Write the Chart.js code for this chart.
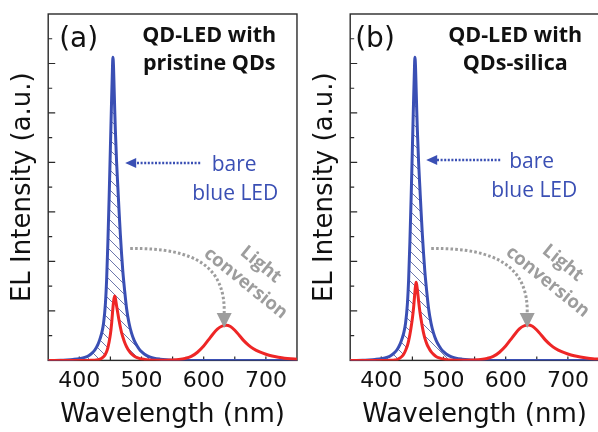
<!DOCTYPE html>
<html><head><meta charset="utf-8">
<script src="https://cdn.jsdelivr.net/npm/chart.js@4"></script>
<style>
html,body{margin:0;padding:0;background:#fff;}
#wrap{position:relative;width:598px;height:432px;overflow:hidden;background:#fff;}
canvas{position:absolute;top:0;}
</style></head><body>
<div id="wrap"><canvas id="ca" width="299" height="432" style="left:0px"></canvas><canvas id="cb" width="302" height="432" style="left:299px"></canvas></div>
<script>
// ---- data ----
const wavelengths = [350,360,370,380,390,400,410,415,420,425,430,433,436,439,442,444,446,448,450,452,453,454,455,456,457,458,460,462,464,466,468,470,473,476,480,484,488,493,498,505,512,520,530,540,550,560,570,580,590,600,608,615,622,629,636,643,650,657,664,672,680,690,700,710,720,730,740,750];
const blueA = [0,0,0.005,0.02,0.04,0.07,0.13, 0.19,0.28,0.42,0.65, 0.85,1.1,1.5,2.3, 3.3,4.8,6.6,8.6, 10.6,11.5,12.25,11.9, 11.0,10.1,9.3,8.0, 7.0,6.0,5.1,4.3, 3.6,2.8,2.1,1.5, 1.1,0.82,0.58,0.4, 0.25,0.15,0.09,0.05, 0.025,0.01,0,0, 0,0,0,0, 0,0,0,0, 0,0,0,0, 0,0,0,0, 0,0,0,0, 0];
const redA = [0,0,0,0,0,0,0, 0,0.005,0.01,0.03, 0.05,0.09,0.15,0.25, 0.36,0.52,0.75,1.05, 1.5,1.8,2.1,2.35, 2.52,2.6,2.52,2.2, 1.9,1.6,1.35,1.12, 0.95,0.72,0.55,0.38, 0.26,0.18,0.11,0.07, 0.04,0.02,0.01,0.005, 0.01,0.02,0.04,0.08, 0.16,0.33,0.58,0.84, 1.07,1.26,1.38,1.42, 1.37,1.22,1.02,0.81, 0.62,0.47,0.34,0.25, 0.18,0.13,0.09,0.065, 0.05];
const blueB = [0,0,0.005,0.02,0.04,0.07,0.13, 0.19,0.28,0.42,0.65, 0.85,1.1,1.5,2.3, 3.3,4.8,6.6,8.6, 10.6,11.5,12.25,11.9, 11.0,10.1,9.3,8.0, 7.0,6.0,5.1,4.3, 3.6,2.8,2.1,1.5, 1.1,0.82,0.58,0.4, 0.25,0.15,0.09,0.05, 0.025,0.01,0,0, 0,0,0,0, 0,0,0,0, 0,0,0,0, 0,0,0,0, 0,0,0,0, 0];
const redB = [0,0,0,0,0,0,0, 0.005,0.01,0.03,0.1, 0.16,0.25,0.4,0.6, 0.8,1.05,1.35,1.7, 2.15,2.45,2.75,3.0, 3.16,3.05,2.85,2.4, 1.98,1.65,1.35,1.1, 0.9,0.68,0.52,0.35, 0.24,0.16,0.1,0.06, 0.03,0.015,0.01,0.005, 0.01,0.02,0.04,0.08, 0.16,0.33,0.58,0.84, 1.07,1.27,1.39,1.43, 1.38,1.23,1.03,0.82, 0.63,0.48,0.35,0.26, 0.19,0.14,0.1,0.07, 0.055];
const xTickLabels = [400,500,600,700];
const xInnerTicks = [400,450,500,550,600,650,700];
const yInnerTicks = [1,2,3,4,5,6,7,8,9,10,11,12,13];

const BLUE = '#3a4fb4', RED = '#ee2626', GRAY = '#9d9d9d', INK = '#111';

function makeHatch(){
  const s = 10, c = document.createElement('canvas'); c.width = s; c.height = s;
  const g = c.getContext('2d');
  g.strokeStyle = '#5b66a3'; g.lineWidth = 0.9;
  g.beginPath();
  g.moveTo(0,0); g.lineTo(s,s);
  g.moveTo(-2,s-2); g.lineTo(2,s+2);
  g.moveTo(s-2,-2); g.lineTo(s+2,2);
  g.stroke();
  return g.createPattern(c,'repeat');
}
const hatch = makeHatch();

const annot = {
  id: 'annot',
  beforeDatasetsDraw(chart, args, o){
    const {ctx, chartArea: a, scales: {x, y}} = chart;
    ctx.save();
    ctx.strokeStyle = '#2a2a2a'; ctx.lineWidth = 1.4;
    ctx.strokeRect(a.left, a.top, a.right - a.left, a.bottom - a.top);
    ctx.lineWidth = 1.2;
    ctx.beginPath();
    for (const v of xInnerTicks){ const px = x.getPixelForValue(v); ctx.moveTo(px, a.bottom); ctx.lineTo(px, a.bottom - 4); }
    for (const v of yInnerTicks){ const py = y.getPixelForValue(v); ctx.moveTo(a.left, py); ctx.lineTo(a.left + (v % 2 === 0 ? 7 : 4), py); }
    ctx.stroke();
    ctx.restore();
  },
  afterDatasetsDraw(chart, args, o){
    const {ctx, chartArea: a} = chart;
    const L = a.left, T = a.top;
    ctx.save();
    // panel label
    ctx.fillStyle = INK; ctx.textAlign = 'left'; ctx.textBaseline = 'alphabetic';
    ctx.font = '28px "DejaVu Sans"';
    ctx.fillText(o.panel, L + o.panelDx, T + 33);
    // title
    ctx.textAlign = 'center';
    ctx.font = 'bold 21.5px "Open Sans"';
    ctx.fillText(o.title[0], L + o.titleDx, T + 28);
    ctx.fillText(o.title[1], L + o.titleDx, T + 56);
    // bare blue LED
    ctx.fillStyle = BLUE;
    ctx.font = '21px "Open Sans"';
    ctx.fillText('bare', L + o.bare[0], T + o.bare[1]);
    ctx.fillText('blue LED', L + o.bare[2], T + o.bare[1] + 29);
    // blue dotted arrow
    const ay = T + o.arrow[1];
    ctx.strokeStyle = BLUE; ctx.lineWidth = 2.6; ctx.setLineDash([2, 1.6]);
    ctx.beginPath(); ctx.moveTo(L + o.arrow[2], ay); ctx.lineTo(L + o.arrow[0] + 9, ay); ctx.stroke();
    ctx.setLineDash([]);
    ctx.beginPath(); ctx.moveTo(L + o.arrow[0], ay); ctx.lineTo(L + o.arrow[0] + 11, ay - 5); ctx.lineTo(L + o.arrow[0] + 11, ay + 5); ctx.closePath(); ctx.fill();
    // gray text
    ctx.fillStyle = GRAY;
    ctx.font = 'bold 18.5px "Open Sans"';
    ctx.save();
    ctx.translate(L + 205, T + o.grayY);
    ctx.rotate(39 * Math.PI / 180);
    ctx.textBaseline = 'middle';
    ctx.fillText('Light', 0, -12);
    ctx.fillText('conversion', 0, 12);
    ctx.restore();
    // gray curved dotted arrow
    ctx.strokeStyle = GRAY; ctx.lineWidth = 3; ctx.setLineDash([2.6, 2.2]);
    const sx = L + o.garrow[0], sy = T + 234.5, tx = L + o.garrow[1], ty = T + 314;
    ctx.beginPath(); ctx.moveTo(sx, sy);
    ctx.bezierCurveTo(sx + 68, sy - 1, tx + 1, T + 255, tx, ty - 15);
    ctx.stroke();
    ctx.setLineDash([]);
    ctx.beginPath(); ctx.moveTo(tx, ty); ctx.lineTo(tx - 7.5, ty - 15); ctx.lineTo(tx + 7.5, ty - 15); ctx.closePath(); ctx.fill();
    ctx.restore();
  }
};

function makeChart(id, blue, red, padding, annotOpts){
  return new Chart(document.getElementById(id), {
    type: 'line',
    data: { datasets: [
      { label: 'bare blue LED', data: wavelengths.map((w, i) => ({x: w, y: blue[i]})), borderColor: BLUE, borderWidth: 3, pointRadius: 0, cubicInterpolationMode: 'monotone', fill: {target: 1, above: hatch, below: 'rgba(0,0,0,0)'}, order: 1 },
      { label: 'QD-LED', data: wavelengths.map((w, i) => ({x: w, y: red[i]})), borderColor: RED, borderWidth: 3, pointRadius: 0, cubicInterpolationMode: 'monotone', fill: false, order: 0 }
    ]},
    options: {
      responsive: false, animation: false, events: [],
      layout: { padding: padding },
      plugins: { legend: {display: false}, tooltip: {enabled: false}, annot: annotOpts },
      scales: {
        x: { type: 'linear', min: 350, max: 750,
          grid: {display: false, drawTicks: false}, border: {display: false},
          afterBuildTicks: s => { s.ticks = xTickLabels.map(v => ({value: v})); },
          ticks: { font: {family: 'DejaVu Sans', size: 22, lineHeight: 0.8}, color: INK, padding: 12, maxRotation: 0, autoSkip: false },
          title: { display: true, text: 'Wavelength (nm)', font: {family: 'DejaVu Sans', size: 26, lineHeight: 1}, color: INK, padding: {top: 0, bottom: 4} } },
        y: { min: 0, max: 14,
          grid: {display: false, drawTicks: false}, border: {display: false},
          ticks: { display: false },
          title: { display: true, text: 'EL Intensity (a.u.)', font: {family: 'DejaVu Sans', size: 26, lineHeight: 1.2}, color: INK, padding: {top: 8, bottom: 9} } }
      }
    },
    plugins: [annot]
  });
}

makeChart('ca', blueA, redA, {left: 0, right: 1, top: 14, bottom: 0},
  {panel: '(a)', panelDx: 11, title: ['QD-LED with', 'pristine QDs'], titleDx: 161, bare: [186, 157, 187], arrow: [77, 149, 152], grayY: 260, garrow: [82, 176]});
makeChart('cb', blueB, redB, {left: 3, right: 1, top: 14, bottom: 0},
  {panel: '(b)', panelDx: 5, title: ['QD-LED with', 'QDs-silica'], titleDx: 165, bare: [181.5, 154, 184], arrow: [76, 146, 150], grayY: 258.5, garrow: [81, 177]});
</script>
</body></html>
